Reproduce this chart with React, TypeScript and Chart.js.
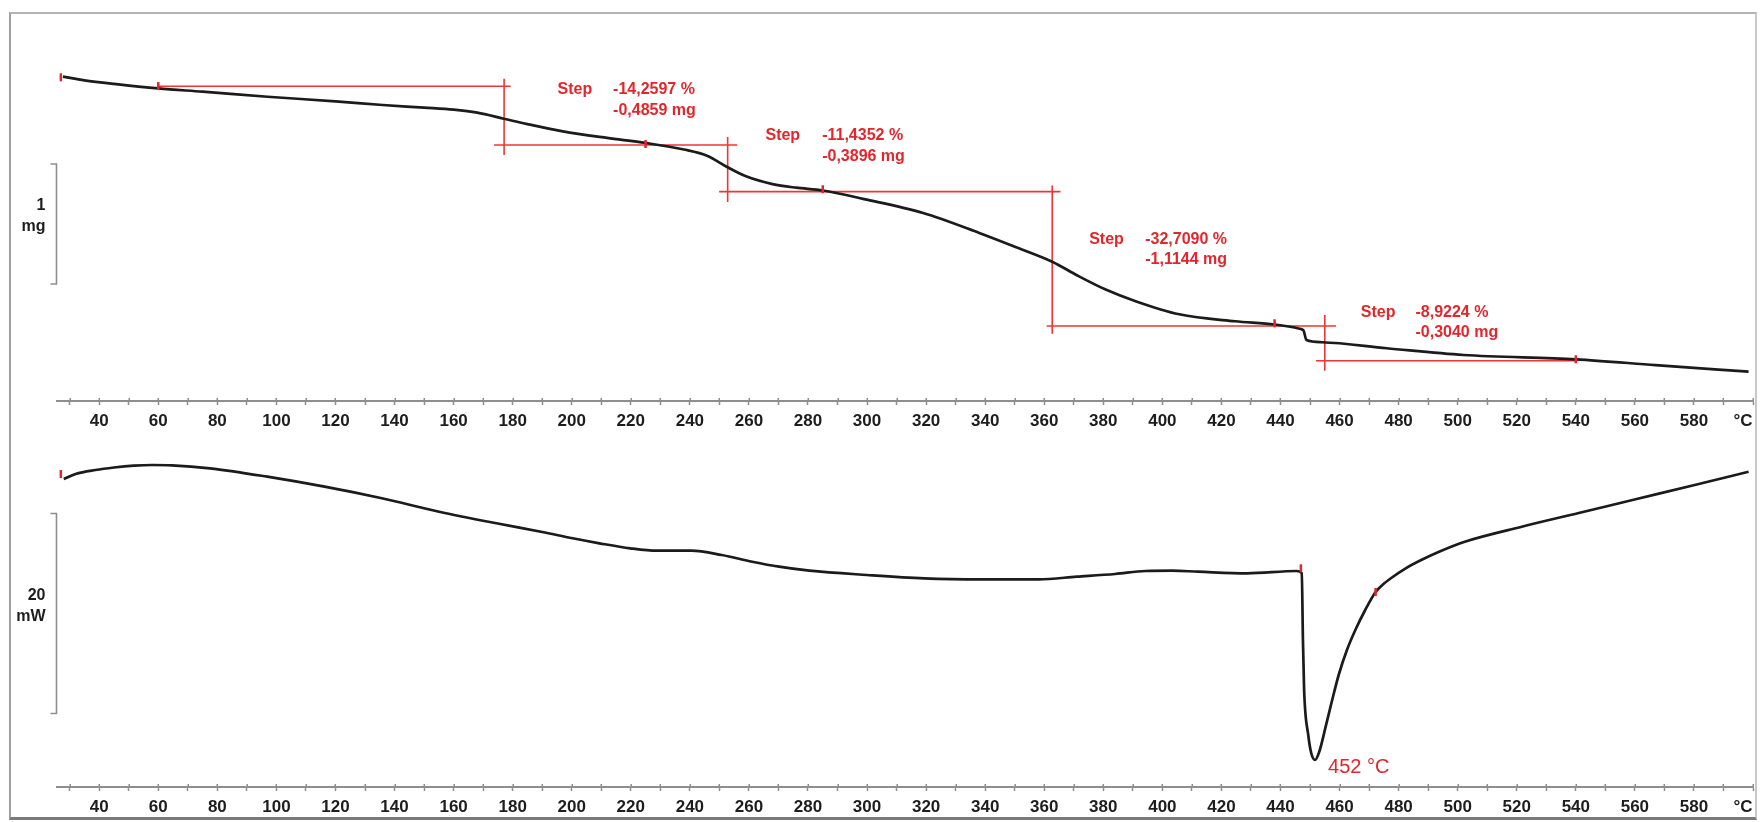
import React, { useEffect, useRef } from 'react';
import { Chart, registerables } from 'chart.js';

Chart.register(...registerables);

const FONT = "'Liberation Sans', Arial, Helvetica, sans-serif";
const CURVE = '#1b1b1b';
const RED = '#e3262b';
const RED_LINE = '#ef3535';
const AXIS = '#8e8e8e';

// ---------- shared temperature axis ----------
const X_MIN = 25.7;
const X_MAX = 600;
const xTickValues = [30, 40, 50, 60, 70, 80, 90, 100, 110, 120, 130, 140, 150, 160, 170, 180, 190, 200,
  210, 220, 230, 240, 250, 260, 270, 280, 290, 300, 310, 320, 330, 340, 350, 360, 370, 380, 390, 400,
  410, 420, 430, 440, 450, 460, 470, 480, 490, 500, 510, 520, 530, 540, 550, 560, 570, 580, 590, 600];
const xTickLabels = [40, 60, 80, 100, 120, 140, 160, 180, 200, 220, 240, 260, 280, 300, 320, 340, 360,
  380, 400, 420, 440, 460, 480, 500, 520, 540, 560, 580];
const unitLabel = '°C';
const unitLabelPos = 596.6;

// ---------- TG curve (mg) ----------
const tgTemp = [27.7, 35, 45, 60, 75, 97, 120, 136, 150, 160, 168, 177, 185, 197, 212, 225, 238, 246,
  252.8, 259, 268, 276, 285, 299, 319, 338, 351, 362.7, 371.4, 381, 390.5, 405.7, 424.6, 438, 446.5,
  447.8, 448.8, 454, 476, 502, 540, 567, 598.5];
const tgMass = [3.41, 3.38, 3.35, 3.312, 3.285, 3.243, 3.205, 3.174, 3.152, 3.135, 3.11, 3.06, 3.015,
  2.955, 2.9, 2.858, 2.803, 2.75, 2.655, 2.58, 2.515, 2.485, 2.462, 2.39, 2.274, 2.108, 1.984, 1.868,
  1.751, 1.634, 1.543, 1.43, 1.372, 1.345, 1.31, 1.295, 1.215, 1.197, 1.147, 1.091, 1.055, 1.007, 0.952];
const tgMarkerTemp = [27, 60, 225, 285, 438, 540];
const tgMarkerMass = [3.405, 3.332, 2.849, 2.472, 1.355, 1.055];

// step evaluation construction lines
const stepHLineMass = [3.33, 2.841, 2.452, 1.333, 1.043];
const stepHLineFrom = [59.6, 173.7, 249.9, 360.8, 452];
const stepHLineTo = [179.3, 256, 365.5, 458.8, 540];
const stepVLineTemp = [177.1, 252.8, 362.7, 455];
const stepVLineTop = [3.393, 2.907, 2.504, 1.424];
const stepVLineBottom = [2.757, 2.365, 1.268, 0.96];

const stepTitle = 'Step';
const stepPercent = ['-14,2597 %', '-11,4352 %', '-32,7090 %', '-8,9224 %'];
const stepMassText = ['-0,4859 mg', '-0,3896 mg', '-1,1144 mg', '-0,3040 mg'];
const stepTitleTemp = [195.2, 265.6, 375.2, 467.2];
const stepValueTemp = [214, 284.8, 394.2, 485.7];
const stepLabelMass = [3.299, 2.916, 2.055, 1.446];

const tgRange = [0.7075, 3.9325];
const tgBar = [2.6825, 1.6825];
const tgBarText = ['1', 'mg'];

// ---------- DSC curve (mW) ----------
const dscTemp = [28, 32, 38.7, 45, 51.7, 58, 64.6, 77.5, 96.9, 116.3, 135.7, 155.1, 174.5, 190, 200.3,
  209.4, 219.8, 228.8, 240.5, 250.8, 261.1, 270.2, 280.5, 300, 319.3, 338.7, 358.1, 371, 384, 394.3,
  403.3, 412.1, 428.7, 445.5, 447.2, 447.6, 448.0, 449.4, 450.4, 451.7, 453.1, 455.3, 457.5, 459.8,
  462.5, 465.5, 468.6, 472.2, 474.5, 477.5, 482.4, 488, 493.7, 502.4, 521.7, 541, 560.6, 579.9, 598.5];
const dscHeat = [12.1, 12.6, 13.0, 13.25, 13.43, 13.5, 13.47, 13.17, 12.33, 11.33, 10.17, 8.83, 7.67,
  6.8, 6.17, 5.67, 5.17, 4.93, 4.93, 4.5, 3.83, 3.33, 2.93, 2.5, 2.17, 2.07, 2.07, 2.33, 2.6, 2.9,
  2.93, 2.83, 2.67, 2.9, 2.7, -4.0, -9.0, -13.5, -15.3, -16.0, -15.2, -12.67, -10.0, -7.4, -5.0, -2.9,
  -1.05, 0.8, 1.5, 2.2, 3.17, 4.05, 4.83, 5.83, 7.33, 8.7, 10.1, 11.47, 12.83];
const dscMarkerTemp = [27, 446.9, 472.2];
const dscMarkerHeat = [12.6, 3.17, 0.8];
const peakTemp = 452;
const peakLabelTemp = 456.1;
const peakLabelHeat = -16.75;

const dscRange = [-18.7, 15];
const dscBar = [8.65, -11.35];
const dscBarText = ['20', 'mW'];

// ---------- helpers ----------
const pts = (xs: number[], ys: number[]) => xs.map((x, i) => ({ x, y: ys[i] }));

function xScale(axisHeight: number) {
  return {
    type: 'linear',
    min: X_MIN,
    max: X_MAX,
    position: 'bottom',
    afterBuildTicks: (s: any) => {
      const vals = [...xTickValues, unitLabelPos].sort((a, b) => a - b);
      s.ticks = vals.map((v) => ({ value: v }));
    },
    afterFit: (s: any) => {
      s.height = axisHeight;
    },
    border: { display: true, color: AXIS, width: 2 },
    grid: {
      display: true,
      drawOnChartArea: false,
      drawTicks: true,
      tickLength: 4,
      tickWidth: 1.5,
      tickColor: (c: any) => (c.tick && c.tick.value === unitLabelPos ? 'rgba(0,0,0,0)' : AXIS),
    },
    ticks: {
      autoSkip: false,
      maxRotation: 0,
      minRotation: 0,
      padding: 6,
      color: '#1d1d1d',
      font: { family: FONT, size: 17, weight: 'bold' },
      callback: (v: number) => {
        if (v === unitLabelPos) return unitLabel;
        return xTickLabels.indexOf(v) >= 0 ? String(v) : '';
      },
    },
  };
}

function scaleBarPlugin(id: string, bar: number[], text: string[], extra?: (ctx: any, x: any, y: any) => void) {
  return {
    id,
    afterDatasetsDraw(chart: any) {
      const { ctx, scales, chartArea } = chart;
      const x = scales.x;
      const y = scales.y;
      ctx.save();
      // small upward parts of the axis ticks
      ctx.strokeStyle = AXIS;
      ctx.lineWidth = 1.5;
      ctx.beginPath();
      xTickValues.forEach((v) => {
        const px = Math.round(x.getPixelForValue(v)) + 0.25;
        ctx.moveTo(px, chartArea.bottom);
        ctx.lineTo(px, chartArea.bottom - 3);
      });
      ctx.stroke();
      // scale bar
      const bx = x.getPixelForValue(X_MIN) - 0.5;
      const t = y.getPixelForValue(bar[0]);
      const b = y.getPixelForValue(bar[1]);
      ctx.lineWidth = 1.6;
      ctx.beginPath();
      ctx.moveTo(bx - 6, t);
      ctx.lineTo(bx, t);
      ctx.lineTo(bx, b);
      ctx.lineTo(bx - 6, b);
      ctx.stroke();
      const mid = (t + b) / 2;
      ctx.fillStyle = '#1d1d1d';
      ctx.font = `bold 16px ${FONT}`;
      ctx.textAlign = 'right';
      ctx.textBaseline = 'alphabetic';
      ctx.fillText(text[0], bx - 11, mid - 14);
      ctx.fillText(text[1], bx - 11, mid + 7);
      if (extra) extra(ctx, x, y);
      ctx.restore();
    },
  };
}

const baseOptions = (padTop: number, axisHeight: number, yRange: number[]) => ({
  responsive: false,
  animation: false,
  devicePixelRatio: 1,
  layout: { padding: { left: 57, right: 9, top: padTop, bottom: 0 } },
  scales: {
    x: xScale(axisHeight),
    y: { type: 'linear', display: false, min: yRange[0], max: yRange[1] },
  },
  plugins: { legend: { display: false }, tooltip: { enabled: false }, title: { display: false } },
  elements: { point: { radius: 0 } },
});

const markerSet = (xs: number[], ys: number[]) => ({
  data: pts(xs, ys),
  showLine: false,
  pointStyle: 'line',
  pointRotation: 90,
  pointRadius: 4,
  pointBorderWidth: 2.5,
  pointBorderColor: RED,
  pointBackgroundColor: RED,
  borderColor: RED,
});

export default function App() {
  const tgRef = useRef<HTMLCanvasElement | null>(null);
  const dscRef = useRef<HTMLCanvasElement | null>(null);

  useEffect(() => {
    Chart.defaults.font.family = FONT;

    const stepSets: any[] = [];
    stepHLineMass.forEach((m, i) => {
      stepSets.push({
        data: [{ x: stepHLineFrom[i], y: m }, { x: stepHLineTo[i], y: m }],
        borderColor: RED_LINE,
        borderWidth: 1.6,
        pointRadius: 0,
      });
    });
    stepVLineTemp.forEach((t, i) => {
      stepSets.push({
        data: [{ x: t, y: stepVLineTop[i] }, { x: t, y: stepVLineBottom[i] }],
        borderColor: RED_LINE,
        borderWidth: 1.6,
        pointRadius: 0,
      });
    });

    const tgChart = new Chart(tgRef.current as HTMLCanvasElement, {
      type: 'line',
      data: {
        datasets: [
          markerSet(tgMarkerTemp, tgMarkerMass),
          {
            data: pts(tgTemp, tgMass),
            borderColor: CURVE,
            borderWidth: 2.7,
            pointRadius: 0,
            cubicInterpolationMode: 'monotone',
          },
          ...stepSets,
        ],
      },
      options: baseOptions(14, 39, tgRange) as any,
      plugins: [
        scaleBarPlugin('tgBar', tgBar, tgBarText, (ctx, x, y) => {
          ctx.fillStyle = RED;
          ctx.font = `bold 16px ${FONT}`;
          ctx.textAlign = 'left';
          ctx.textBaseline = 'middle';
          stepPercent.forEach((p, i) => {
            const yy = y.getPixelForValue(stepLabelMass[i]);
            ctx.fillText(stepTitle, x.getPixelForValue(stepTitleTemp[i]), yy);
            ctx.fillText(p, x.getPixelForValue(stepValueTemp[i]), yy);
            ctx.fillText(stepMassText[i], x.getPixelForValue(stepValueTemp[i]), yy + 20.5);
          });
        }),
      ],
    } as any);

    const dscChart = new Chart(dscRef.current as HTMLCanvasElement, {
      type: 'line',
      data: {
        datasets: [
          markerSet(dscMarkerTemp, dscMarkerHeat),
          {
            data: pts(dscTemp, dscHeat),
            borderColor: CURVE,
            borderWidth: 2.7,
            pointRadius: 0,
            cubicInterpolationMode: 'monotone',
          },
        ],
      },
      options: baseOptions(10, 35, dscRange) as any,
      plugins: [
        scaleBarPlugin('dscBar', dscBar, dscBarText, (ctx, x, y) => {
          ctx.fillStyle = RED;
          ctx.font = `20px ${FONT}`;
          ctx.textAlign = 'left';
          ctx.textBaseline = 'middle';
          ctx.fillText(`${peakTemp} °C`, x.getPixelForValue(peakLabelTemp), y.getPixelForValue(peakLabelHeat));
        }),
      ],
    } as any);

    return () => {
      tgChart.destroy();
      dscChart.destroy();
    };
  }, []);

  return (
    <div style={{ position: 'absolute', left: 0, top: 0, width: 1762, height: 822, overflow: 'hidden', background: '#fff' }}>
      <canvas ref={tgRef} width={1762} height={440} style={{ position: 'absolute', left: 0, top: 0, width: 1762, height: 440 }} />
      <canvas ref={dscRef} width={1762} height={382} style={{ position: 'absolute', left: 0, top: 440, width: 1762, height: 382 }} />
      <div
        style={{
          position: 'absolute',
          left: 9,
          top: 12,
          width: 1748,
          height: 808,
          boxSizing: 'border-box',
          borderTop: '2px solid #b4b4b4',
          borderLeft: '2px solid #a0a0a0',
          borderRight: '2px solid #c8c8c8',
          borderBottom: '3px solid #7a7a7a',
          pointerEvents: 'none',
        }}
      />
    </div>
  );
}
